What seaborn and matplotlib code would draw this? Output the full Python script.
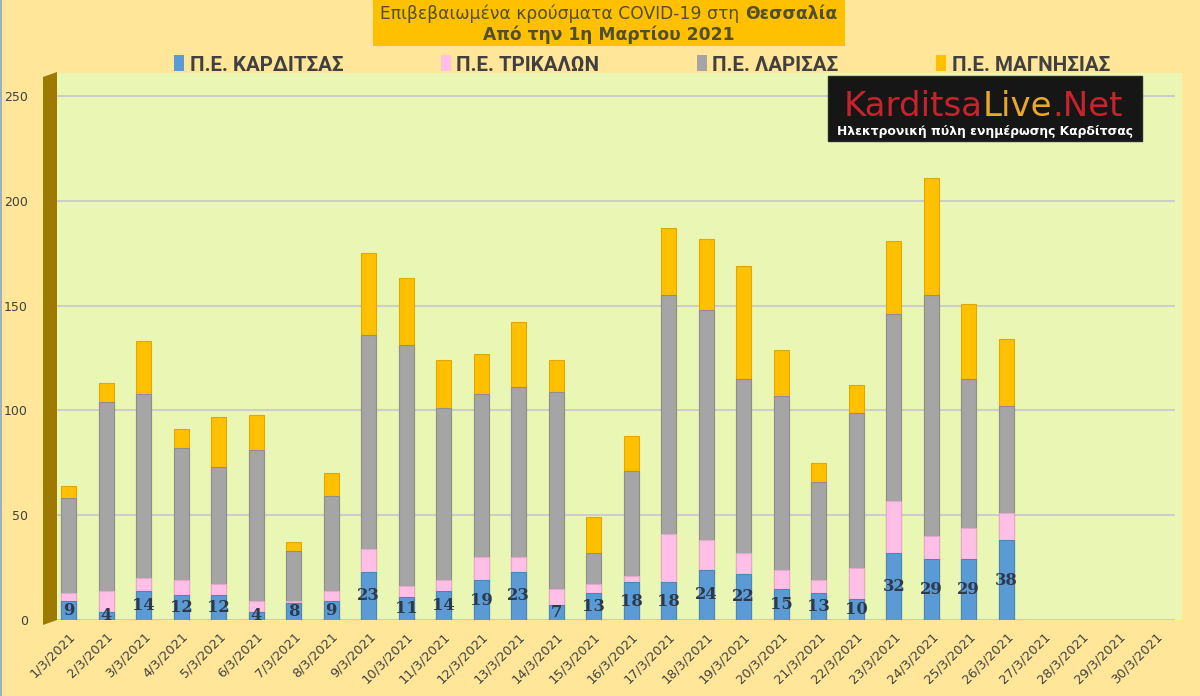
import numpy as np
import pandas as pd
import seaborn as sns
import matplotlib.pyplot as plt
from matplotlib.patches import Rectangle, Polygon, Patch

# ---------------- data ----------------
dates = ["1/3/2021", "2/3/2021", "3/3/2021", "4/3/2021", "5/3/2021", "6/3/2021",
         "7/3/2021", "8/3/2021", "9/3/2021", "10/3/2021", "11/3/2021", "12/3/2021",
         "13/3/2021", "14/3/2021", "15/3/2021", "16/3/2021", "17/3/2021", "18/3/2021",
         "19/3/2021", "20/3/2021", "21/3/2021", "22/3/2021", "23/3/2021", "24/3/2021",
         "25/3/2021", "26/3/2021", "27/3/2021", "28/3/2021", "29/3/2021", "30/3/2021"]
karditsa = [9, 4, 14, 12, 12, 4, 8, 9, 23, 11, 14, 19, 23, 7, 13, 18, 18, 24, 22, 15, 13, 10, 32, 29, 29, 38]
trikala = [4, 10, 6, 7, 5, 5, 1, 5, 11, 5, 5, 11, 7, 8, 4, 3, 23, 14, 10, 9, 6, 15, 25, 11, 15, 13]
larisa = [45, 90, 88, 63, 56, 72, 24, 45, 102, 115, 82, 78, 81, 94, 15, 50, 114, 110, 83, 83, 47, 74, 89, 115, 71, 51]
magnesia = [6, 9, 25, 9, 24, 17, 4, 11, 39, 32, 23, 19, 31, 15, 17, 17, 32, 34, 54, 22, 9, 13, 35, 56, 36, 32]
series_names = ["Π.Ε. ΚΑΡΔΙΤΣΑΣ", "Π.Ε. ΤΡΙΚΑΛΩΝ", "Π.Ε. ΛΑΡΙΣΑΣ", "Π.Ε. ΜΑΓΝΗΣΙΑΣ"]
yticks = [0, 50, 100, 150, 200, 250]

colors = ["#5B9BD5", "#FFBFE6", "#A5A5A5", "#FFC000"]
edges = ["#4A86BE", "#E8A6CF", "#8E8E8E", "#E0A800"]

# ---------------- frame ----------------
n_missing = len(dates) - len(karditsa)
pad = [np.nan] * n_missing
df = pd.DataFrame({
    "date": dates,
    "k": karditsa + pad,
    "t": trikala + pad,
    "l": larisa + pad,
    "m": magnesia + pad,
})
df["c1"] = df["k"]
df["c2"] = df["c1"] + df["t"]
df["c3"] = df["c2"] + df["l"]
df["c4"] = df["c3"] + df["m"]

W, H = 1200, 696
fig = plt.figure(figsize=(12, 6.96), dpi=100, facecolor="#FFE699")


def fx(px):
    return px / W


def fy(py):
    return 1 - py / H


# backgrounds
fig.patches.append(Rectangle((fx(50), fy(620)), fx(1182) - fx(50), fy(73) - fy(620),
                             transform=fig.transFigure, facecolor="#EAF7B4",
                             edgecolor="none", zorder=-2))
fig.patches.append(Rectangle((0, 0), fx(2), 1, transform=fig.transFigure,
                             facecolor="#9DB0C0", edgecolor="none", zorder=-1))
fig.patches.append(Rectangle((fx(373), fy(46)), fx(845) - fx(373), fy(0) - fy(46),
                             transform=fig.transFigure, facecolor="#FFC000",
                             edgecolor="none", zorder=-1))

ax = fig.add_axes([fx(50), fy(620), fx(1175) - fx(50), fy(73) - fy(620)])
ax.set_facecolor("none")

sns.set_style("white")
layers = ["c4", "c3", "c2", "c1"]
for col, c, e in zip(layers, colors[::-1], edges[::-1]):
    sns.barplot(data=df, x="date", y=col, order=dates, color=c, width=0.4,
                saturation=1, edgecolor=e, linewidth=0.8, errorbar=None, ax=ax)

# value labels for Karditsa
for i, v in enumerate(karditsa):
    ax.text(i, v / 2, str(v), ha="center", va="center", fontsize=11.8,
            fontweight="bold", family="DejaVu Serif", color="#2E3A4C", zorder=5)

ax.set_xlim(-0.5, len(dates) - 0.5)
ax.set_ylim(0, 261)
ax.set_yticks(yticks)
ax.set_xticks(range(len(dates)))
ax.set_xticklabels(dates, rotation=45, ha="right", va="top", rotation_mode="anchor",
                   fontsize=9.3, color="#404040", family="DejaVu Sans")
ax.tick_params(axis="x", length=0, pad=7)
ax.tick_params(axis="y", length=0, pad=16, labelsize=9, labelcolor="#404040")
ax.set_xlabel("")
ax.set_ylabel("")
ax.grid(axis="y", color="#CDCDCD", linewidth=1.5)
ax.grid(axis="x", visible=False)
ax.set_axisbelow(True)
for s in ax.spines.values():
    s.set_visible(False)

# left 3D wall
fig.patches.append(Polygon([(fx(43), fy(77)), (fx(57), fy(72)), (fx(57), fy(620)), (fx(43), fy(625))],
                           closed=True, transform=fig.transFigure, facecolor="#9E7B00",
                           edgecolor="none", zorder=1))

# legend
handles = [Patch(facecolor=c, edgecolor="none") for c in colors]
fig.legend(handles, series_names, loc="center", bbox_to_anchor=(fx(642), fy(65)),
           ncol=4, frameon=False, columnspacing=4.75, handlelength=0.5, handleheight=0.8,
           handletextpad=0.25, prop={"family": ["Roboto", "DejaVu Sans"], "weight": "bold", "size": 14.8},
           labelcolor="#404040")

# title
renderer = fig.canvas.get_renderer()


def seq_text(pieces, cx, y_px, **common):
    objs = []
    widths = []
    for txt, props in pieces:
        t = fig.text(0, fy(y_px), txt, ha="left", va="center", **common, **props)
        w = t.get_window_extent(renderer).width
        objs.append(t)
        widths.append(w)
    total = sum(widths)
    x = cx - total / 2
    for t, w in zip(objs, widths):
        t.set_x(fx(x))
        x += w
    return objs


title_font = {"family": "DejaVu Sans", "size": 12.3, "color": "#505030"}
tmp = fig.text(0, 0, "x x", **title_font)
tmp2 = fig.text(0, 0, "xx", **title_font)
space_w = tmp.get_window_extent(renderer).width - tmp2.get_window_extent(renderer).width
tmp.remove()
tmp2.remove()

objs = seq_text([("Επιβεβαιωμένα κρούσματα COVID-19 στη", {}),
                 ("Θεσσαλία", {"fontweight": "bold"})], 609, 14, **title_font)
objs[1].set_x(objs[1].get_position()[0] + fx(space_w / 2))
objs[0].set_x(objs[0].get_position()[0] - fx(space_w / 2))
fig.text(fx(609), fy(35), "Από την 1η Μαρτίου 2021", ha="center", va="center",
         fontweight="bold", **title_font)

# logo box
fig.patches.append(Rectangle((fx(828), fy(141)), fx(1142) - fx(828), fy(76) - fy(141),
                             transform=fig.transFigure, facecolor="#161616",
                             edgecolor="#2A2A2A", zorder=3))
logo_font = {"family": "DejaVu Sans", "size": 24.5, "zorder": 4}
seq_text([("Karditsa", {"color": "#C8232B"}), ("Live", {"color": "#E8A82A"}),
          (".Net", {"color": "#C8232B"})], 983, 107, **logo_font)
fig.text(fx(985), fy(131), "Ηλεκτρονική πύλη ενημέρωσης Καρδίτσας", ha="center", va="center",
         color="white", fontweight="bold", family="DejaVu Sans", size=8.9, zorder=4)

fig.savefig("out.png", dpi=100, facecolor=fig.get_facecolor())
